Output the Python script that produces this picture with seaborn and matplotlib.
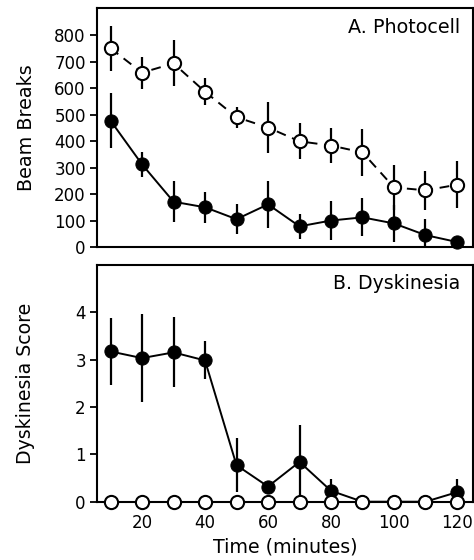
import numpy as np
import pandas as pd
import seaborn as sns
import matplotlib
matplotlib.use('Agg')
import matplotlib.pyplot as plt

# time points (minutes)
time = [10, 20, 30, 40, 50, 60, 70, 80, 90, 100, 110, 120]

# A. Photocell - beam breaks
photo_filled = [478, 313, 172, 151, 106, 162, 79, 101, 113, 90, 46, 20]
photo_filled_err = [105, 46, 78, 58, 56, 88, 48, 72, 72, 70, 60, 12]
photo_open = [751, 659, 694, 587, 491, 452, 400, 384, 358, 226, 215, 236]
photo_open_err = [85, 60, 87, 50, 40, 98, 68, 65, 88, 85, 73, 88]

# B. Dyskinesia - score
dysk_filled = [3.17, 3.03, 3.15, 2.98, 0.77, 0.32, 0.84, 0.23, 0.0, 0.0, 0.0, 0.2]
dysk_filled_err = [0.70, 0.93, 0.74, 0.40, 0.57, 0.08, 0.78, 0.25, 0.0, 0.0, 0.0, 0.27]
dysk_open = [0.0] * 12
dysk_open_err = [0.0] * 12

sns.set_style('ticks')
plt.rcParams['font.family'] = ['DejaVu Sans']
plt.rcParams['text.color'] = 'black'
plt.rcParams['axes.labelcolor'] = 'black'
plt.rcParams['xtick.color'] = 'black'
plt.rcParams['ytick.color'] = 'black'
plt.rcParams['axes.edgecolor'] = 'black'

fig = plt.figure(figsize=(4.74, 5.6), dpi=100)
ax1 = fig.add_axes([0.2046, 0.5584, 0.7934, 0.4273])
ax2 = fig.add_axes([0.2046, 0.1041, 0.7934, 0.4232])

def draw(ax, filled, ferr, opn, oerr, open_ls):
    df = pd.DataFrame({'time': time, 'filled': filled, 'open': opn})
    ax.errorbar(time, filled, yerr=ferr, fmt='none', ecolor='black',
                elinewidth=1.6, capsize=0, zorder=2)
    ax.errorbar(time, opn, yerr=oerr, fmt='none', ecolor='black',
                elinewidth=1.6, capsize=0, zorder=2)
    sns.lineplot(data=df, x='time', y='filled', ax=ax, color='black',
                 linewidth=1.4, marker='o', markersize=9.5,
                 markerfacecolor='black', markeredgecolor='black',
                 clip_on=False, zorder=3)
    sns.lineplot(data=df, x='time', y='open', ax=ax, color='black',
                 linewidth=1.4, linestyle=open_ls, marker='o', markersize=9.5,
                 markerfacecolor='white', markeredgecolor='black',
                 markeredgewidth=1.5, clip_on=False, zorder=4)
    ax.set_xlim(5.7, 125.1)
    for s in ax.spines.values():
        s.set_linewidth(1.5)
        s.set_visible(True)
    ax.tick_params(axis='y', direction='out', length=5, width=1.3,
                   labelsize=12, pad=3)
    ax.set_xlabel('')

draw(ax1, photo_filled, photo_filled_err, photo_open, photo_open_err, (0, (5, 3.5)))
ax1.set_ylim(0, 903)
ax1.set_yticks(range(0, 801, 100))
ax1.tick_params(axis='x', bottom=False, labelbottom=False)
ax1.set_ylabel('Beam Breaks', fontsize=13.8)
ax1.yaxis.set_label_coords(-0.163, 0.5)
ax1.text(0.965, 0.96, 'A. Photocell', transform=ax1.transAxes,
         ha='right', va='top', fontsize=13.8)

draw(ax2, dysk_filled, dysk_filled_err, dysk_open, dysk_open_err, '-')
ax2.set_ylim(0, 5.0)
ax2.set_yticks([0, 1, 2, 3, 4])
ax2.set_xticks([20, 40, 60, 80, 100, 120])
ax2.tick_params(axis='x', direction='out', length=4, width=1.3,
                labelsize=12, pad=5)
ax2.set_ylabel('Dyskinesia Score', fontsize=13.6)
ax2.yaxis.set_label_coords(-0.165, 0.5)
ax2.set_xlabel('Time (minutes)', fontsize=13.7, labelpad=4)
ax2.text(0.965, 0.96, 'B. Dyskinesia', transform=ax2.transAxes,
         ha='right', va='top', fontsize=13.6)

fig.savefig('out.png', dpi=100)
